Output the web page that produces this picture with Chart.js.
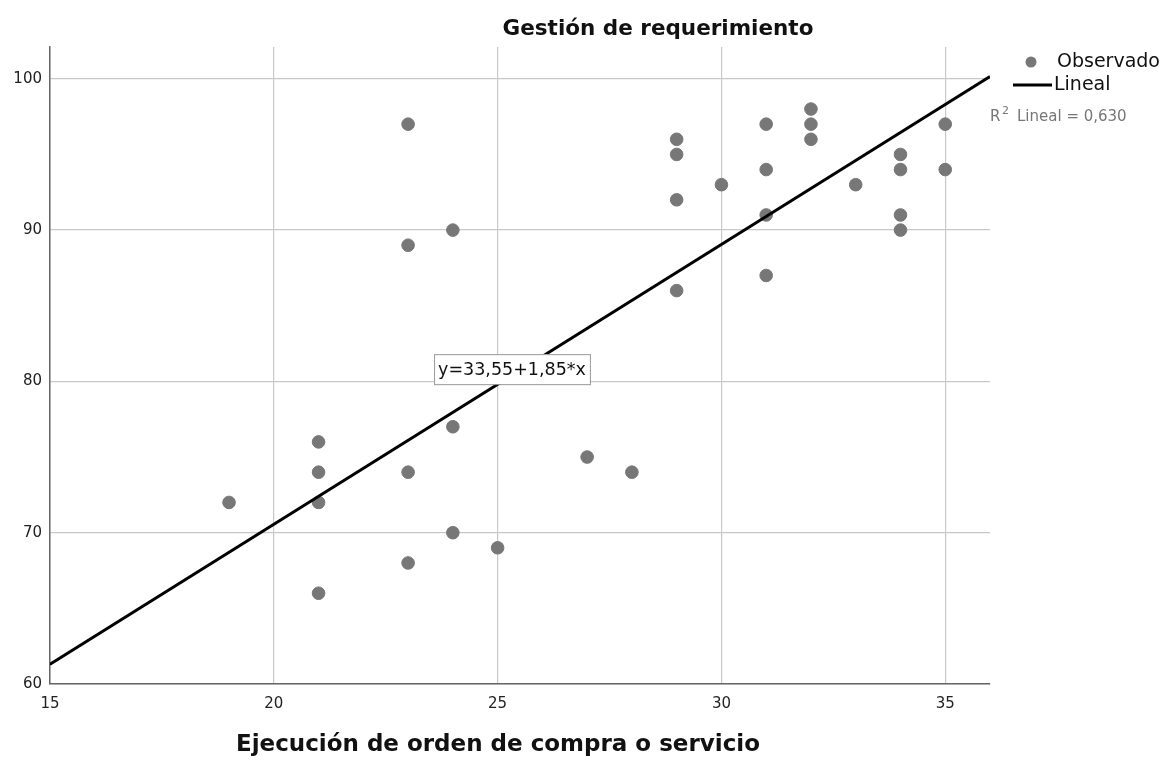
<!DOCTYPE html>
<html>
<head>
<meta charset="utf-8">
<script src="https://cdn.jsdelivr.net/npm/chart.js@4.4.1/dist/chart.umd.min.js"></script>
<style>
html,body{margin:0;padding:0;background:#fff;}
#wrap{width:1166px;height:760px;position:relative;}
</style>
</head>
<body>
<div id="wrap"><canvas id="c" width="1166" height="760"></canvas></div>
<script>
// ---- data ----
const obsX = [19, 21, 21, 21, 21, 23, 23, 23, 23, 24, 24, 24, 25, 27, 28, 29, 29, 29, 29, 30, 31, 31, 31, 31, 32, 32, 32, 33, 34, 34, 34, 34, 35, 35];
const obsY = [72, 76, 74, 72, 66, 97, 89, 74, 68, 90, 77, 70, 69, 75, 74, 96, 95, 92, 86, 93, 97, 94, 91, 87, 98, 97, 96, 93, 95, 94, 91, 90, 97, 94];
const fitIntercept = 33.55;
const fitSlope = 1.85;
const fitRange = [15, 36];
const xTicks = [15, 20, 25, 30, 35];
const yTicks = [60, 70, 80, 90, 100];
const titleText = 'Gestión de requerimiento';
const xTitleText = 'Ejecución de orden de compra o servicio';
const eqText = 'y=33,55+1,85*x';
const r2Text = 'Lineal = 0,630';
const legendLabels = ['Observado', 'Lineal'];

const points = obsX.map((x, i) => ({x: x, y: obsY[i]}));
const fitLine = fitRange.map(x => ({x: x, y: fitIntercept + fitSlope * x}));

const FONT = "'DejaVu Sans', sans-serif";

const overlay = {
  id: 'overlay',
  afterDraw(chart) {
    const ctx = chart.ctx;
    const xs = chart.scales.x, ys = chart.scales.y;
    ctx.save();
    // title
    ctx.fillStyle = '#111';
    ctx.font = "bold 21.5px " + FONT;
    ctx.textAlign = 'center';
    ctx.textBaseline = 'middle';
    ctx.fillText(titleText, 658, 29);
    // x axis title
    ctx.font = "bold 23px " + FONT;
    ctx.fillText(xTitleText, 498, 745);
    // equation box
    const bx = xs.getPixelForValue(23.58), by = ys.getPixelForValue(81.8);
    ctx.font = "17.5px " + FONT;
    ctx.textAlign = 'left';
    const tw = ctx.measureText(eqText).width;
    ctx.fillStyle = '#fff';
    ctx.fillRect(bx, by, tw + 8, 30);
    ctx.strokeStyle = '#999';
    ctx.lineWidth = 1;
    ctx.strokeRect(bx + 0.5, by + 0.5, tw + 8, 30);
    ctx.fillStyle = '#111';
    ctx.fillText(eqText, bx + 4, by + 16);
    // legend
    ctx.fillStyle = '#777';
    ctx.beginPath();
    ctx.arc(1031, 62, 5.5, 0, Math.PI * 2);
    ctx.fill();
    ctx.fillStyle = '#111';
    ctx.font = "19px " + FONT;
    ctx.fillText(legendLabels[0], 1057, 62);
    ctx.strokeStyle = '#000';
    ctx.lineWidth = 3;
    ctx.beginPath();
    ctx.moveTo(1013, 85);
    ctx.lineTo(1052, 85);
    ctx.stroke();
    ctx.fillText(legendLabels[1], 1054, 85);
    // R2
    ctx.fillStyle = '#777';
    ctx.font = "15px " + FONT;
    ctx.fillText('R', 990, 117);
    ctx.font = "11px " + FONT;
    ctx.fillText('2', 1002, 111);
    ctx.font = "15px " + FONT;
    ctx.fillText(r2Text, 1017, 117);
    ctx.restore();
  }
};

new Chart(document.getElementById('c'), {
  type: 'scatter',
  data: {
    datasets: [
      {
        label: legendLabels[0],
        data: points,
        backgroundColor: '#777',
        borderColor: '#777',
        pointRadius: 6.3,
        pointHoverRadius: 6.3,
        order: 2
      },
      {
        label: legendLabels[1],
        type: 'line',
        data: fitLine,
        borderColor: '#000',
        borderWidth: 3,
        pointRadius: 0,
        fill: false,
        order: 1
      }
    ]
  },
  options: {
    responsive: false,
    animation: false,
    devicePixelRatio: 1,
    layout: {padding: {left: 0, right: 176, top: 47, bottom: 0}},
    plugins: {legend: {display: false}, title: {display: false}, tooltip: {enabled: false}},
    scales: {
      x: {
        type: 'linear',
        min: 15,
        max: 36,
        afterBuildTicks: s => { s.ticks = xTicks.map(v => ({value: v})); },
        afterFit: s => { s.height = 76; },
        grid: {color: '#c8c8c8', lineWidth: 1.2, drawTicks: false},
        border: {color: '#666', width: 1.5},
        ticks: {color: '#222', font: {family: FONT, size: 15}, padding: 11}
      },
      y: {
        type: 'linear',
        min: 60,
        max: 102.1,
        afterBuildTicks: s => { s.ticks = yTicks.map(v => ({value: v})); },
        afterFit: s => { s.width = 50; },
        grid: {color: '#c8c8c8', lineWidth: 1.2, drawTicks: false},
        border: {color: '#666', width: 1.5},
        ticks: {color: '#222', font: {family: FONT, size: 15}, padding: 8}
      }
    }
  },
  plugins: [overlay]
});
</script>
</body>
</html>
